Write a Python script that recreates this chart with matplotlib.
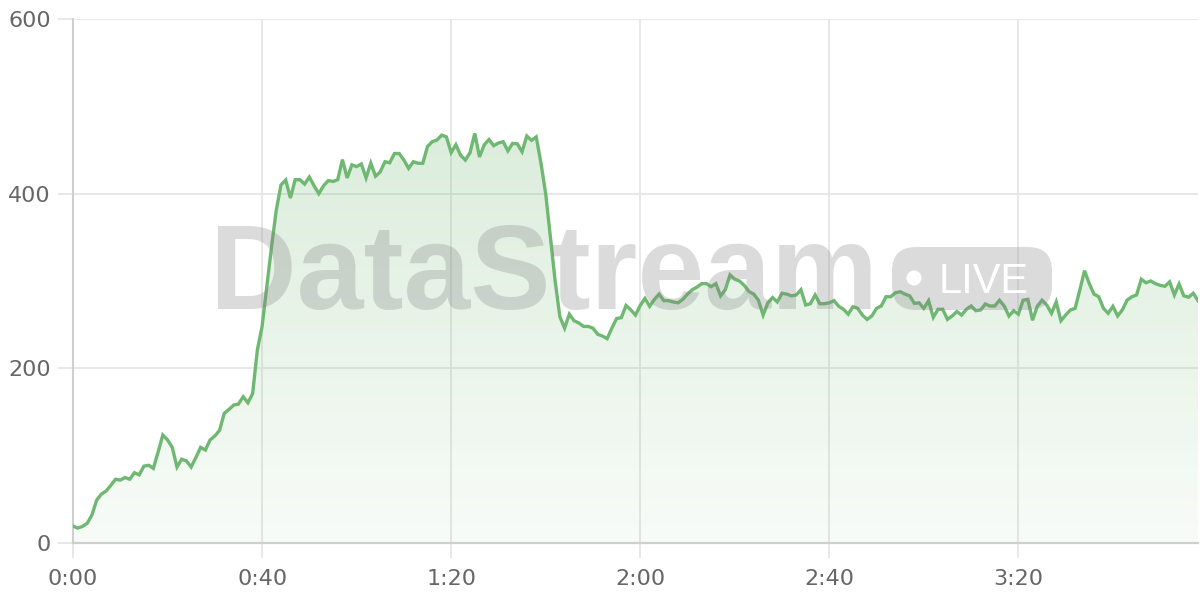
import numpy as np
import matplotlib
matplotlib.use("Agg")
import matplotlib.pyplot as plt
from matplotlib.patches import FancyBboxPatch, Circle
from matplotlib.transforms import IdentityTransform

# ---- data (one sample per second) ----
seconds = list(range(239))
values = [
    19.5, 17, 19, 22.5, 32, 49, 56, 59.5, 66, 73,
    72, 75, 73, 80.5, 78, 88, 89, 85.5, 104, 123.6,
    118, 109.5, 87, 96, 94, 87, 98, 109.5, 106.5, 118,
    122.5, 129, 148.5, 153, 158, 159, 167.5, 160.6, 171, 221,
    248, 293, 339, 381, 410, 415.6, 395, 416, 416, 411,
    419, 409, 400, 409, 415, 414, 416, 439, 418, 433,
    431, 434, 418, 435, 420, 425, 436.6, 435.4, 446, 446,
    438.5, 429, 436.6, 434.8, 434.8, 454, 459.5, 461.4, 467, 465,
    447, 456, 444, 438.5, 447, 469, 442, 456, 462, 455,
    458, 459.5, 449, 457.6, 457, 448, 466, 461, 465, 435,
    400, 350, 300, 259, 246, 262, 254.5, 252, 248, 248,
    246, 239, 237, 234, 246, 257, 258, 272, 267, 261,
    272, 280, 271, 279, 285, 277.5, 277.5, 276, 275, 279,
    285, 290, 293, 297, 297, 293.5, 297, 283, 290, 307,
    302, 300, 295, 288, 285, 278, 261, 275, 281, 276,
    286, 285, 283, 284, 290, 272.5, 274, 284, 274, 274,
    275, 277.5, 271, 267.6, 262, 270.6, 268.7, 261, 256, 260,
    268.7, 271.4, 282, 282, 286.6, 287.7, 285, 283, 274.4, 275,
    268.7, 277.5, 258.4, 267.6, 267.6, 256, 260, 265, 261, 267.6,
    271.4, 266, 266.8, 273.7, 271.4, 271.4, 278, 271.4, 259.9, 266,
    262, 278, 279, 255, 271, 278, 272.5, 263, 276, 254.5,
    261, 266.8, 268.7, 289.7, 311.8, 297, 285, 282, 268.7, 263,
    271, 260, 267, 278, 282, 284, 302, 298, 300, 297,
    295, 294, 299, 284, 296.6, 283, 281.4, 286, 277.5,
]
x_ticks = [0, 40, 80, 120, 160, 200]
x_tick_labels = ["0:00", "0:40", "1:20", "2:00", "2:40", "3:20"]
y_ticks = [0, 200, 400, 600]
y_tick_labels = ["0", "200", "400", "600"]
watermark_text = "DataStream"
badge_text = "LIVE"

line_color = "#6fb872"
grid_color = "#e6e6e6"
axis_color = "#cfcfcf"
label_color = "#666666"

plt.rcParams["font.family"] = ["DejaVu Sans"]

fig = plt.figure(figsize=(12, 6), dpi=100)
ax = fig.add_axes([73 / 1200, 1 - 543 / 600, (1198 - 73) / 1200, (543 - 19) / 600])

x = np.array(seconds, dtype=float)
y = np.array(values, dtype=float)

ax.set_xlim(x[0], x[-1])
ax.set_ylim(0, 600)

# gradient fill under line
poly = ax.fill_between(x, y, 0, color="none", lw=0)
ymax = y.max()
grad = np.linspace(0.05, 0.25, 256).reshape(-1, 1)
rgba = np.zeros((256, 1, 4))
rgba[..., 0] = 0.44
rgba[..., 1] = 0.72
rgba[..., 2] = 0.45
rgba[..., 3] = grad
img = ax.imshow(rgba, extent=[x[0], x[-1], 0, ymax], origin="lower",
                aspect="auto", zorder=1, interpolation="bilinear")
img.set_clip_path(poly.get_paths()[0], transform=ax.transData)

ax.plot(x, y, color=line_color, lw=2.4, zorder=4, solid_joinstyle="miter")

# grid & axes styling
ax.set_xticks(x_ticks)
ax.set_xticklabels(x_tick_labels)
ax.set_yticks(y_ticks)
ax.set_yticklabels(y_tick_labels)
ax.grid(True, color=grid_color, lw=1.3, zorder=0)
ax.set_axisbelow(True)
for s in ["top", "right"]:
    ax.spines[s].set_visible(False)
ax.spines["left"].set_color(axis_color)
ax.spines["left"].set_linewidth(1.5)
ax.spines["bottom"].set_color(axis_color)
ax.spines["bottom"].set_linewidth(1.6)
ax.spines["bottom"].set_zorder(5)
ax.tick_params(axis="both", length=11, width=1.3, color=grid_color,
               labelsize=16, labelcolor=label_color)
ax.tick_params(axis="x", pad=8)
ax.tick_params(axis="y", pad=5)

# watermark
wm_gray = (0.5, 0.5, 0.5)
fig.text(210 / 1200, 1 - 309 / 600, watermark_text, fontsize=86.5,
         family=["Liberation Sans", "DejaVu Sans"], fontweight="bold",
         color=wm_gray, alpha=0.28, ha="left", va="baseline", zorder=3)
pill = FancyBboxPatch((892, 600 - 310), 160, 63,
                      boxstyle="round,pad=0,rounding_size=24",
                      transform=IdentityTransform(), facecolor=wm_gray,
                      alpha=0.28, edgecolor="none", zorder=3)
fig.patches.append(pill)
fig.patches.append(Circle((914, 600 - 278), 7.5, transform=IdentityTransform(),
                          facecolor="white", edgecolor="none", zorder=3.1))
fig.text(939 / 1200, 1 - 293 / 600, badge_text, fontsize=30,
         family=["Liberation Sans", "DejaVu Sans"], color="white",
         ha="left", va="baseline", zorder=3.2)

fig.savefig("out.png", dpi=100)
